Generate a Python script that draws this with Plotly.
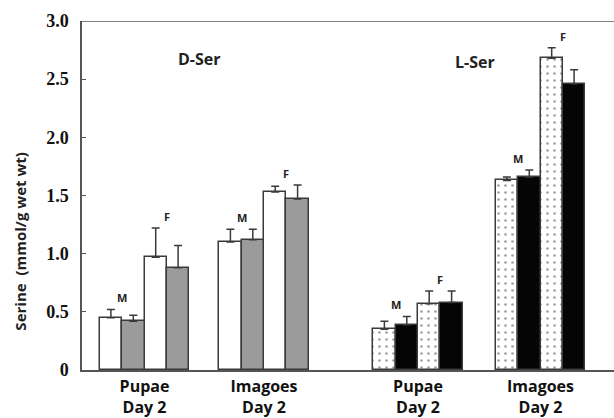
import plotly.graph_objects as go

# ---- data ----
stages = ["Pupae<br>Day 2", "Imagoes<br>Day 2"]
sexes = ["M", "F"]
panels = ["D-Ser", "L-Ser"]

# order within each series: Pupae M, Pupae F, Imagoes M, Imagoes F
d_ser_a = [0.45, 0.97, 1.10, 1.53]
d_ser_a_err = [0.07, 0.25, 0.11, 0.05]
d_ser_b = [0.42, 0.88, 1.12, 1.47]
d_ser_b_err = [0.05, 0.19, 0.09, 0.12]
l_ser_a = [0.35, 0.57, 1.63, 2.68]
l_ser_a_err = [0.07, 0.11, 0.03, 0.09]
l_ser_b = [0.39, 0.58, 1.66, 2.46]
l_ser_b_err = [0.07, 0.10, 0.06, 0.12]

y_ticks = [0, 0.5, 1.0, 1.5, 2.0, 2.5, 3.0]
y_tick_text = ["0", "0.5", "1.0", "1.5", "2.0", "2.5", "3.0"]

# ---- layout helpers ----
group_centers = [62.5, 182, 336, 458.5]   # D pupae, D imagoes, L pupae, L imagoes
bw = 22.4
EDGE = "#3a3a3a"
SANS = "Open Sans, Noto Sans, DejaVu Sans, sans-serif"
SERIF = "Liberation Serif, DejaVu Serif, serif"


def positions(panel_idx, offset):
    out = []
    for stage_idx in range(2):
        c = group_centers[panel_idx * 2 + stage_idx]
        out.append(c + (offset[0]) * bw)
        out.append(c + (offset[1]) * bw)
    return out


fig = go.Figure()

series = [
    (0, (-1.5, 0.5), d_ser_a, d_ser_a_err, "white", None),
    (0, (-0.5, 1.5), d_ser_b, d_ser_b_err, "#9b9b9b", None),
    (1, (-1.5, 0.5), l_ser_a, l_ser_a_err, "white", "dots"),
    (1, (-0.5, 1.5), l_ser_b, l_ser_b_err, "#050505", None),
]

for panel_idx, off, vals, errs, color, pat in series:
    xs = positions(panel_idx, off)
    marker = dict(color=color, line=dict(color=EDGE, width=1.5))
    if pat:
        marker["pattern"] = dict(shape=".", fgcolor="#444444", bgcolor="white",
                                 size=7, solidity=0.12, fillmode="overlay")
    fig.add_trace(go.Bar(
        x=xs, y=vals, width=bw, marker=marker,
        error_y=dict(type="data", array=errs, arrayminus=[0] * len(errs),
                     symmetric=False, color=EDGE, thickness=1.5, width=4),
        showlegend=False, hoverinfo="y",
    ))

# M / F labels above each pair
pairs = [(d_ser_a, d_ser_a_err, d_ser_b, d_ser_b_err, 0),
         (l_ser_a, l_ser_a_err, l_ser_b, l_ser_b_err, 1)]
for a, ae, b, be, p in pairs:
    for stage_idx in range(2):
        c = group_centers[p * 2 + stage_idx]
        for sex_idx, sex in enumerate(sexes):
            i = stage_idx * 2 + sex_idx
            top = max(a[i] + ae[i], b[i] + be[i])
            fig.add_annotation(
                x=c + (-1 if sex_idx == 0 else 1) * bw, y=top + 0.1,
                text="<b>%s</b>" % sex, showarrow=False,
                font=dict(family=SANS, size=11, color="#222"),
                xanchor="center", yanchor="middle")

# panel titles
fig.add_annotation(x=117, y=2.67, text="<b>%s</b>" % panels[0], showarrow=False,
                   font=dict(family=SANS, size=16, color="#222"))
fig.add_annotation(x=393, y=2.65, text="<b>%s</b>" % panels[1], showarrow=False,
                   font=dict(family=SANS, size=16, color="#222"))

# y axis title
fig.add_annotation(xref="paper", yref="paper", x=-0.117, y=0.37,
                   text="<b>Serine  (mmol/g wet wt)</b>", textangle=-90,
                   showarrow=False, xanchor="center", yanchor="middle",
                   font=dict(family=SANS, size=15, color="#222"))

# top frame line
fig.add_shape(type="line", xref="paper", yref="y", x0=0, x1=1, y0=3.0, y1=3.0,
              line=dict(color="#555", width=1.5))

fig.update_layout(
    width=614, height=418,
    margin=dict(l=82, r=0, t=21, b=48),
    paper_bgcolor="white", plot_bgcolor="white",
    bargap=0,
    xaxis=dict(range=[0, 532], tickvals=group_centers,
               ticktext=[stages[0], stages[1], stages[0], stages[1]],
               showgrid=False, zeroline=False, showline=True,
               linecolor="#555", linewidth=1.5, ticks="",
               ticklabelstandoff=1,
               tickfont=dict(family=SANS, size=16, color="#111", weight="bold")),
    yaxis=dict(range=[0, 3.0], tickvals=y_ticks, ticktext=y_tick_text,
               showgrid=False, zeroline=False, showline=True,
               linecolor="#555", linewidth=1.5,
               ticks="inside", ticklen=4, tickcolor="#555", tickwidth=1.2,
               ticklabelstandoff=8,
               tickfont=dict(family=SERIF, size=18, color="#111", weight="bold")),
)

fig.write_html(
    "out.html",
    config={"displayModeBar": False},
    post_script="document.body.style.margin='0';document.body.style.overflow='hidden';",
)
